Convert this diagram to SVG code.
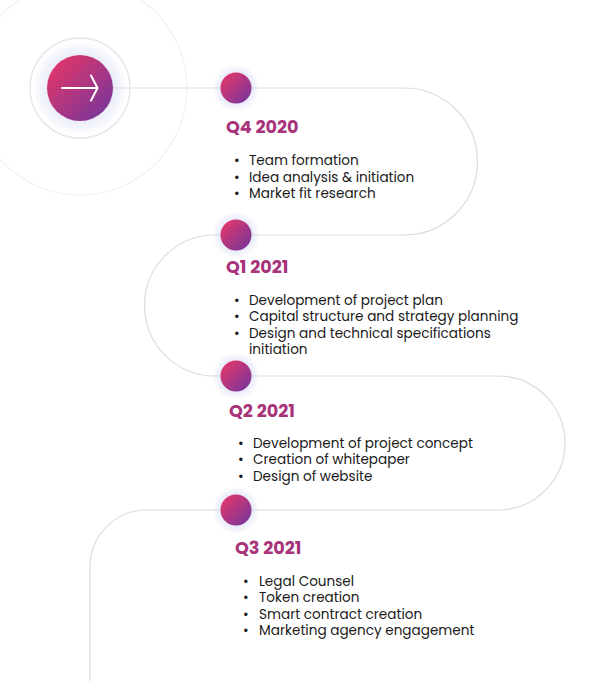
<svg xmlns="http://www.w3.org/2000/svg" width="610" height="681" viewBox="0 0 610 681">
<defs>
<linearGradient id="g" x1="0" y1="0" x2="1" y2="1">
<stop offset="0.1" stop-color="#e2366a"/>
<stop offset="0.9" stop-color="#7a3699"/>
</linearGradient>
<radialGradient id="glow">
<stop offset="0.5" stop-color="#c9cff0" stop-opacity="0.6"/>
<stop offset="1" stop-color="#c9cff0" stop-opacity="0"/>
</radialGradient>
<style>
.h{font-family:Poppins,"Open Sans","Liberation Sans",sans-serif;font-weight:700;font-size:17.6px;fill:#a8337a}
.t{font-family:Poppins,"Open Sans","Liberation Sans",sans-serif;font-size:13.6px;fill:#1a1a1a}
.line{fill:none;stroke:#dcdce2;stroke-width:1.2}
</style>
</defs>
<rect width="610" height="681" fill="#ffffff"/>
<circle cx="80" cy="88" r="107" fill="none" stroke="#f0f0f3" stroke-width="1.2"/>
<g id="connectors">
<path class="line" d="M113 88 H404 A73.5 73.5 0 0 1 404 235 H215 A70.5 70.5 0 0 0 215 376 H498 A67 67 0 0 1 498 510 H147 A57 57 0 0 0 90 567 V681"/>
</g>
<g id="start">
<circle cx="80" cy="88" r="50" fill="none" stroke="#e6e6ec" stroke-width="1.5"/>
<circle cx="80" cy="88" r="48" fill="url(#glow)"/>
<circle cx="80" cy="88" r="33" fill="url(#g)"/>
<path d="M62 88 H97 M91 75.5 L97.5 88 L91 100.5" fill="none" stroke="#ffffff" stroke-width="2" stroke-linecap="round" stroke-linejoin="round"/>
</g>
<g id="q4-2020">
<circle cx="236" cy="88" r="24" fill="url(#glow)"/>
<circle cx="236" cy="88" r="15.5" fill="url(#g)"/>
<text class="h" x="226" y="133">Q4 2020</text>
<text class="t" x="234" y="165">•</text><text class="t" x="249" y="165">Team formation</text>
<text class="t" x="234" y="182">•</text><text class="t" x="249" y="182">Idea analysis &amp; initiation</text>
<text class="t" x="234" y="198">•</text><text class="t" x="249" y="198">Market fit research</text>
</g>
<g id="q1-2021">
<circle cx="236" cy="235" r="24" fill="url(#glow)"/>
<circle cx="236" cy="235" r="15.5" fill="url(#g)"/>
<text class="h" x="226" y="273">Q1 2021</text>
<text class="t" x="234" y="305">•</text><text class="t" x="249" y="305">Development of project plan</text>
<text class="t" x="234" y="321">•</text><text class="t" x="249" y="321">Capital structure and strategy planning</text>
<text class="t" x="234" y="338">•</text><text class="t" x="249" y="338">Design and technical specifications</text>
<text class="t" x="249" y="354">initiation</text>
</g>
<g id="q2-2021">
<circle cx="236" cy="376" r="24" fill="url(#glow)"/>
<circle cx="236" cy="376" r="15.5" fill="url(#g)"/>
<text class="h" x="229" y="417">Q2 2021</text>
<text class="t" x="238" y="448">•</text><text class="t" x="253" y="448">Development of project concept</text>
<text class="t" x="238" y="464">•</text><text class="t" x="253" y="464">Creation of whitepaper</text>
<text class="t" x="238" y="481">•</text><text class="t" x="253" y="481">Design of website</text>
</g>
<g id="q3-2021">
<circle cx="236" cy="510" r="24" fill="url(#glow)"/>
<circle cx="236" cy="510" r="15.5" fill="url(#g)"/>
<text class="h" x="235" y="554">Q3 2021</text>
<text class="t" x="243" y="586">•</text><text class="t" x="259" y="586">Legal Counsel</text>
<text class="t" x="243" y="602">•</text><text class="t" x="259" y="602">Token creation</text>
<text class="t" x="243" y="619">•</text><text class="t" x="259" y="619">Smart contract creation</text>
<text class="t" x="243" y="635">•</text><text class="t" x="259" y="635">Marketing agency engagement</text>
</g>
</svg>
